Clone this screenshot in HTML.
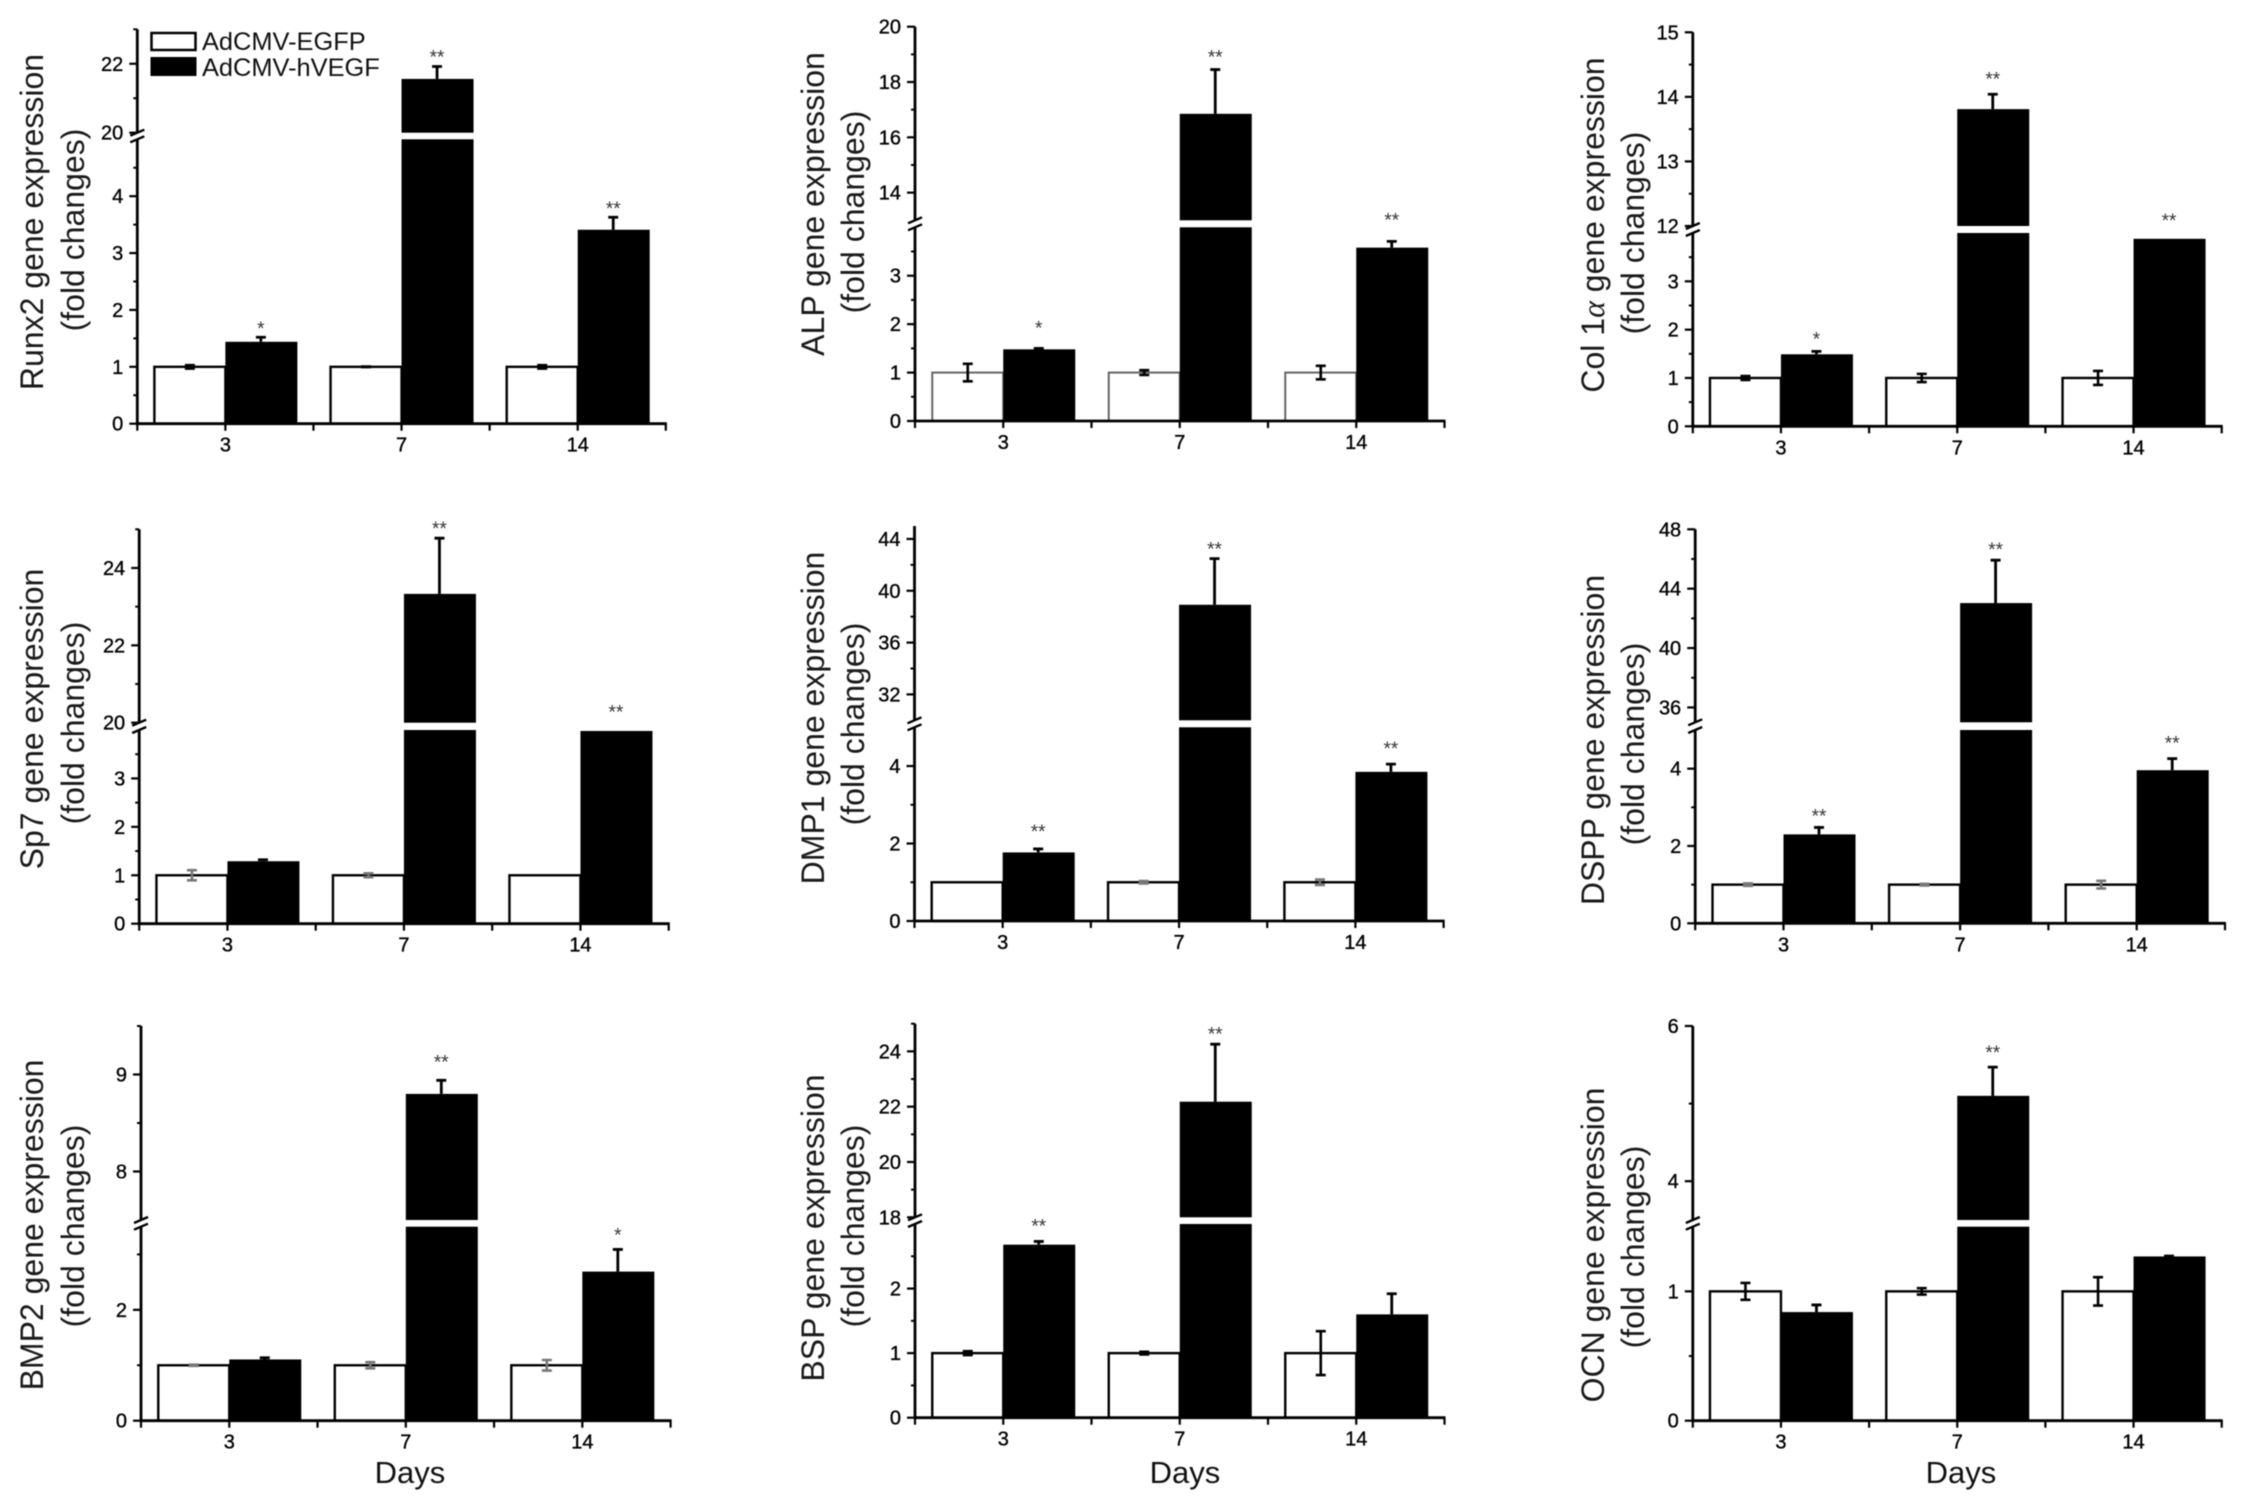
<!DOCTYPE html>
<html lang="en">
<head>
<meta charset="utf-8">
<title>Gene expression fold changes</title>
<style>
html,body{margin:0;padding:0;background:#fff;}
svg{display:block;filter:blur(0.5px);}
text{font-family:"Liberation Sans",sans-serif;fill:#000;}
.yt{font-size:32px;text-anchor:middle;fill:#1a1a1a;}
.days{font-size:31px;text-anchor:middle;fill:#111;}
.leg{font-size:25.4px;fill:#111;}
.tk{stroke:#000;stroke-width:0.35px;}
</style>
</head>
<body>
<svg id="fig" xmlns="http://www.w3.org/2000/svg" width="2241" height="1508" viewBox="0 0 2241 1508">
  <rect x="0" y="0" width="2241" height="1508" fill="#fff"/>

  <g id="runx2">
    <text class="yt" transform="translate(43 222) rotate(-90)">Runx2 gene expression</text>
    <text class="yt" transform="translate(84 230) rotate(-90)">(fold changes)</text>
  </g>
  <g id="alp">
    <text class="yt" transform="translate(824 204) rotate(-90)">ALP gene expression</text>
    <text class="yt" transform="translate(864 212) rotate(-90)">(fold changes)</text>
  </g>
  <g id="col1a">
    <text class="yt" transform="translate(1604 225) rotate(-90)">Col 1<tspan font-family="'Liberation Serif',serif" font-style="italic">α</tspan> gene expression</text>
    <text class="yt" transform="translate(1644 233) rotate(-90)">(fold changes)</text>
  </g>
  <g id="sp7">
    <text class="yt" transform="translate(43 719) rotate(-90)">Sp7 gene expression</text>
    <text class="yt" transform="translate(84 723) rotate(-90)">(fold changes)</text>
  </g>
  <g id="dmp1">
    <text class="yt" transform="translate(824 718) rotate(-90)">DMP1 gene expression</text>
    <text class="yt" transform="translate(864 724) rotate(-90)">(fold changes)</text>
  </g>
  <g id="dspp">
    <text class="yt" transform="translate(1604 740) rotate(-90)">DSPP gene expression</text>
    <text class="yt" transform="translate(1644 744) rotate(-90)">(fold changes)</text>
  </g>
  <g id="bmp2">
    <text class="yt" transform="translate(43 1225) rotate(-90)">BMP2 gene expression</text>
    <text class="yt" transform="translate(84 1226) rotate(-90)">(fold changes)</text>
    <text class="days" x="410" y="1483">Days</text>
  </g>
  <g id="bsp">
    <text class="yt" transform="translate(824 1228) rotate(-90)">BSP gene expression</text>
    <text class="yt" transform="translate(864 1226) rotate(-90)">(fold changes)</text>
    <text class="days" x="1185" y="1483">Days</text>
  </g>
  <g id="ocn">
    <text class="yt" transform="translate(1604 1245) rotate(-90)">OCN gene expression</text>
    <text class="yt" transform="translate(1644 1247) rotate(-90)">(fold changes)</text>
    <text class="days" x="1961" y="1483">Days</text>
  </g>

  <g>
    <g>
      <rect x="151.5" y="33" width="44" height="17" fill="#fff" stroke="#000" stroke-width="2.5"/>
      <text class="leg" x="202" y="50">AdCMV-EGFP</text>
    </g>
    <g>
      <rect x="150.5" y="57" width="46" height="19" fill="#000"/>
      <text class="leg" x="202" y="76">AdCMV-hVEGF</text>
    </g>
  </g>
</svg>

<script>
// ---- shared category labels ----
const days = ['3', '7', '14'];

// ---- Runx2 ----
const runx2Egfp = [1, 1, 1];
const runx2EgfpErr = [0.03, 0.005, 0.03];
const runx2Vegf = [1.44, 21.56, 3.41];
const runx2VegfErr = [0.08, 0.36, 0.22];
const runx2Stars = ['*', '**', '**'];
const runx2LowerTicks = [0, 1, 2, 3, 4];
const runx2UpperTicks = [20, 22];
const runx2LowerDomain = [0, 5];
const runx2UpperDomain = [20, 23];

// ---- ALP ----
const alpEgfp = [1, 1, 1];
const alpEgfpErr = [0.18, 0.05, 0.14];
const alpVegf = [1.48, 16.85, 3.58];
const alpVegfErr = [0.02, 1.6, 0.13];
const alpStars = ['*', '**', '**'];
const alpLowerTicks = [0, 1, 2, 3];
const alpUpperTicks = [14, 16, 18, 20];
const alpLowerDomain = [0, 4];
const alpUpperDomain = [13, 20];

// ---- Col 1 alpha ----
const col1aEgfp = [1, 1, 1];
const col1aEgfpErr = [0.04, 0.085, 0.145];
const col1aVegf = [1.49, 13.81, 3.88];
const col1aVegfErr = [0.06, 0.23, 0];
const col1aStars = ['*', '**', '**'];
const col1aLowerTicks = [0, 1, 2, 3];
const col1aUpperTicks = [12, 13, 14, 15];
const col1aLowerDomain = [0, 4];
const col1aUpperDomain = [12, 15];

// ---- Sp7 ----
const sp7Egfp = [1, 1, 1];
const sp7EgfpErr = [0.105, 0.04, 0];
const sp7Vegf = [1.29, 23.33, 3.98];
const sp7VegfErr = [0.03, 1.44, 0];
const sp7Stars = ['', '**', '**'];
const sp7LowerTicks = [0, 1, 2, 3];
const sp7UpperTicks = [20, 22, 24];
const sp7LowerDomain = [0, 4];
const sp7UpperDomain = [20, 25];

// ---- DMP1 ----
const dmp1Egfp = [1, 1, 1];
const dmp1EgfpErr = [0, 0.03, 0.07];
const dmp1Vegf = [1.77, 38.92, 3.85];
const dmp1VegfErr = [0.09, 3.56, 0.2];
const dmp1Stars = ['**', '**', '**'];
const dmp1LowerTicks = [0, 2, 4];
const dmp1UpperTicks = [32, 36, 40, 44];
const dmp1LowerDomain = [0, 5];
const dmp1UpperDomain = [30, 45];

// ---- DSPP ----
const dsppEgfp = [1, 1, 1];
const dsppEgfpErr = [0.03, 0.02, 0.1];
const dsppVegf = [2.3, 43.03, 3.96];
const dsppVegfErr = [0.18, 2.89, 0.3];
const dsppStars = ['**', '**', '**'];
const dsppLowerTicks = [0, 2, 4];
const dsppUpperTicks = [36, 40, 44, 48];
const dsppLowerDomain = [0, 5];
const dsppUpperDomain = [35, 48];

// ---- BMP2 ----
const bmp2Egfp = [1, 1, 1];
const bmp2EgfpErr = [0.01, 0.055, 0.095];
const bmp2Vegf = [1.105, 8.8, 2.69];
const bmp2VegfErr = [0.03, 0.14, 0.4];
const bmp2Stars = ['', '**', '*'];
const bmp2LowerTicks = [0, 2];
const bmp2UpperTicks = [8, 9];
const bmp2LowerDomain = [0, 3.5];
const bmp2UpperDomain = [7.5, 9.5];

// ---- BSP ----
const bspEgfp = [1, 1, 1];
const bspEgfpErr = [0.03, 0.02, 0.34];
const bspVegf = [2.68, 22.18, 1.6];
const bspVegfErr = [0.05, 2.08, 0.32];
const bspStars = ['**', '**', ''];
const bspLowerTicks = [0, 1, 2];
const bspUpperTicks = [18, 20, 22, 24];
const bspLowerDomain = [0, 3];
const bspUpperDomain = [18, 25];

// ---- OCN ----
const ocnEgfp = [1, 1, 1];
const ocnEgfpErr = [0.065, 0.025, 0.11];
const ocnVegf = [0.84, 5.1, 1.27];
const ocnVegfErr = [0.055, 0.37, 0.003];
const ocnStars = ['', '**', ''];
const ocnLowerTicks = [0, 1];
const ocnUpperTicks = [4, 6];
const ocnLowerDomain = [0, 1.5];
const ocnUpperDomain = [3.5, 6];

// ---- drawing ----
const NS = 'http://www.w3.org/2000/svg';

function shape(parent, tag, attrs) {
  const el = document.createElementNS(NS, tag);
  for (const k in attrs) el.setAttribute(k, attrs[k]);
  parent.appendChild(el);
  return el;
}

function makeYScale(frame, lowerDomain, upperDomain) {
  return function (v) {
    if (v <= lowerDomain[1]) {
      return frame.base - (v - lowerDomain[0]) / (lowerDomain[1] - lowerDomain[0]) * (frame.base - frame.lowerTop);
    }
    const clamped = Math.max(v, upperDomain[0]);
    return frame.upperBottom - (clamped - upperDomain[0]) / (upperDomain[1] - upperDomain[0]) * (frame.upperBottom - frame.top);
  };
}

function drawPanel(key, frame, data) {
  const g = document.getElementById(key);
  const y = makeYScale(frame, data.lowerDomain, data.upperDomain);
  const band = (frame.x1 - frame.x0) / data.categories.length;
  const xCenter = function (i) { return frame.x0 + band * (i + 0.5); };
  const barW = 71;
  const inBreak = function (v) { return v > data.lowerDomain[1]; };

  data.categories.forEach(function (cat, i) {
    const cx = xCenter(i);

    const wb = shape(g, 'rect', {
      x: cx - barW, y: y(data.egfp[i]), width: barW, height: frame.base - y(data.egfp[i]),
      fill: '#fff', stroke: frame.whiteStroke, 'stroke-width': frame.whiteWidth
    });
    
    

    const ex = cx - barW / 2;
    const eTop = y(data.egfp[i] + data.egfpErr[i]);
    const eBot = y(data.egfp[i] - data.egfpErr[i]);
    if (data.egfpErr[i] > 0) {
      const ew = shape(g, 'path', {
        d: 'M' + (ex - 5) + ' ' + eTop + 'H' + (ex + 5) + 'M' + ex + ' ' + eTop + 'V' + eBot + 'M' + (ex - 5) + ' ' + eBot + 'H' + (ex + 5),
        fill: 'none', stroke: frame.errColor, 'stroke-width': 2.6
      });
      
      
    }

    const v = data.vegf[i];
    const barLeft = cx;
    const barWidth = barW + 1;
    if (inBreak(v)) {
      const low = shape(g, 'rect', {
        x: barLeft, y: frame.lowerTop, width: barWidth, height: frame.base - frame.lowerTop, fill: '#000'
      });
      
      
      const up = shape(g, 'rect', {
        x: barLeft, y: y(v), width: barWidth, height: frame.upperBottom - y(v), fill: '#000'
      });
      
      
    } else {
      const bar = shape(g, 'rect', {
        x: barLeft, y: y(v), width: barWidth, height: frame.base - y(v), fill: '#000'
      });
      
      
    }

    const bx = cx + barW / 2;
    const bTop = y(v + data.vegfErr[i]);
    if (data.vegfErr[i] > 0) {
      const eb = shape(g, 'path', {
        d: 'M' + (bx - 5) + ' ' + bTop + 'H' + (bx + 5) + 'M' + bx + ' ' + bTop + 'V' + y(v),
        fill: 'none', stroke: '#000', 'stroke-width': 2.8
      });
      
      
    }

    if (data.stars[i]) {
      const st = shape(g, 'text', {
        x: bx, y: bTop - frame.starGaps[i] + 9, 'text-anchor': 'middle', 'font-size': 19
      });
      st.style.fill = '#333';
      st.textContent = data.stars[i];
      
      
    }

    const xl = shape(g, 'text', {
      x: cx, y: frame.base + 28, 'text-anchor': 'middle', 'font-size': 20, class: 'tk'
    });
    xl.textContent = cat;
    
    
  });

  // x axis
  const xAxis = shape(g, 'line', {
    x1: frame.x0 - 1, x2: frame.x1 + 1, y1: frame.base, y2: frame.base, stroke: '#000', 'stroke-width': 2.8
  });
  
  
  for (let j = 0; j <= data.categories.length * 2; j++) {
    const tx = frame.x0 + band * j / 2;
    const t = shape(g, 'line', {
      x1: tx, x2: tx, y1: frame.base, y2: frame.base + 7, stroke: '#000', 'stroke-width': 2.2
    });
    
    
  }

  // y axis, lower and upper segments
  const yLow = shape(g, 'line', {
    x1: frame.x0, x2: frame.x0, y1: frame.base + 1, y2: frame.lowerTop, stroke: '#000', 'stroke-width': 2.8
  });
  
  
  const yUp = shape(g, 'line', {
    x1: frame.x0, x2: frame.x0, y1: frame.upperBottom, y2: frame.top, stroke: '#000', 'stroke-width': 2.8
  });
  
  

  [frame.lowerTop, frame.upperBottom].forEach(function (by) {
    const s = shape(g, 'line', {
      x1: frame.x0 - 7, y1: by + 3, x2: frame.x0 + 7, y2: by - 3, stroke: '#000', 'stroke-width': 2.4
    });
    
    
  });

  // major ticks and labels
  data.lowerTicks.concat(data.upperTicks).forEach(function (v) {
    const ty = y(v);
    const t = shape(g, 'line', {
      x1: frame.x0 - 8, x2: frame.x0, y1: ty, y2: ty, stroke: '#000', 'stroke-width': 2.2
    });
    
    
    const lbl = shape(g, 'text', {
      x: frame.x0 - 14, y: ty + 7, 'text-anchor': 'end', 'font-size': 20, class: 'tk'
    });
    lbl.textContent = String(v);
    
    
  });

  // minor ticks
  const minors = [];
  for (let v = data.lowerDomain[0] + frame.lowerMinor; v < data.lowerDomain[1] - 1e-6; v += frame.lowerMinor) {
    if (data.lowerTicks.indexOf(v) < 0) minors.push(v);
  }
  for (let v = Math.ceil(data.upperDomain[0] / frame.upperMinor - 1e-6) * frame.upperMinor; v <= data.upperDomain[1] + 1e-6; v += frame.upperMinor) {
    if (v > data.upperDomain[0] && data.upperTicks.indexOf(v) < 0) minors.push(v);
  }
  minors.forEach(function (v) {
    const m = shape(g, 'line', {
      x1: frame.x0 - 4, x2: frame.x0, y1: y(v), y2: y(v), stroke: '#000', 'stroke-width': 2
    });
    
    
  });
}

drawPanel('runx2',
  { x0: 137.3, x1: 665.8, base: 423.7, lowerTop: 139.3, upperBottom: 132.7, top: 29.3, lowerMinor: 0.5, upperMinor: 1, starGaps: [11, 12, 11], whiteStroke: '#000', whiteWidth: 2.4, errColor: '#000' },
  { categories: days, egfp: runx2Egfp, egfpErr: runx2EgfpErr, vegf: runx2Vegf, vegfErr: runx2VegfErr, stars: runx2Stars, lowerTicks: runx2LowerTicks, upperTicks: runx2UpperTicks, lowerDomain: runx2LowerDomain, upperDomain: runx2UpperDomain });

drawPanel('alp',
  { x0: 915, x1: 1444.5, base: 421, lowerTop: 227.3, upperBottom: 220.3, top: 26.7, lowerMinor: 0.5, upperMinor: 1, starGaps: [23, 15, 24], whiteStroke: '#666', whiteWidth: 2, errColor: '#000' },
  { categories: days, egfp: alpEgfp, egfpErr: alpEgfpErr, vegf: alpVegf, vegfErr: alpVegfErr, stars: alpStars, lowerTicks: alpLowerTicks, upperTicks: alpUpperTicks, lowerDomain: alpLowerDomain, upperDomain: alpUpperDomain });

drawPanel('col1a',
  { x0: 1692.8, x1: 2221.7, base: 426.3, lowerTop: 233, upperBottom: 226, top: 32.3, lowerMinor: 0.5, upperMinor: 0.5, starGaps: [14.7, 18, 21], whiteStroke: '#000', whiteWidth: 2.4, errColor: '#000' },
  { categories: days, egfp: col1aEgfp, egfpErr: col1aEgfpErr, vegf: col1aVegf, vegfErr: col1aVegfErr, stars: col1aStars, lowerTicks: col1aLowerTicks, upperTicks: col1aUpperTicks, lowerDomain: col1aLowerDomain, upperDomain: col1aUpperDomain });

drawPanel('sp7',
  { x0: 139.2, x1: 668.7, base: 923.7, lowerTop: 730, upperBottom: 722.7, top: 529.3, lowerMinor: 0.5, upperMinor: 1, starGaps: [12, 12, 21.7], whiteStroke: '#000', whiteWidth: 2.4, errColor: '#777' },
  { categories: days, egfp: sp7Egfp, egfpErr: sp7EgfpErr, vegf: sp7Vegf, vegfErr: sp7VegfErr, stars: sp7Stars, lowerTicks: sp7LowerTicks, upperTicks: sp7UpperTicks, lowerDomain: sp7LowerDomain, upperDomain: sp7UpperDomain });

drawPanel('dmp1',
  { x0: 914.5, x1: 1443.6, base: 921, lowerTop: 727.3, upperBottom: 720.3, top: 526, lowerMinor: 1, upperMinor: 2, starGaps: [20, 12, 18], whiteStroke: '#000', whiteWidth: 2.4, errColor: '#777' },
  { categories: days, egfp: dmp1Egfp, egfpErr: dmp1EgfpErr, vegf: dmp1Vegf, vegfErr: dmp1VegfErr, stars: dmp1Stars, lowerTicks: dmp1LowerTicks, upperTicks: dmp1UpperTicks, lowerDomain: dmp1LowerDomain, upperDomain: dmp1UpperDomain });

drawPanel('dspp',
  { x0: 1695.2, x1: 2225, base: 923.3, lowerTop: 730, upperBottom: 722.3, top: 529.3, lowerMinor: 1, upperMinor: 2, starGaps: [13.7, 13.3, 18], whiteStroke: '#000', whiteWidth: 2.4, errColor: '#777' },
  { categories: days, egfp: dsppEgfp, egfpErr: dsppEgfpErr, vegf: dsppVegf, vegfErr: dsppVegfErr, stars: dsppStars, lowerTicks: dsppLowerTicks, upperTicks: dsppUpperTicks, lowerDomain: dsppLowerDomain, upperDomain: dsppUpperDomain });

drawPanel('bmp2',
  { x0: 141, x1: 670.6, base: 1420.7, lowerTop: 1226.7, upperBottom: 1220, top: 1026, lowerMinor: 1, upperMinor: 0.5, starGaps: [12, 21, 17], whiteStroke: '#000', whiteWidth: 2.4, errColor: '#777' },
  { categories: days, egfp: bmp2Egfp, egfpErr: bmp2EgfpErr, vegf: bmp2Vegf, vegfErr: bmp2VegfErr, stars: bmp2Stars, lowerTicks: bmp2LowerTicks, upperTicks: bmp2UpperTicks, lowerDomain: bmp2LowerDomain, upperDomain: bmp2UpperDomain });

drawPanel('bsp',
  { x0: 915, x1: 1444.5, base: 1417.7, lowerTop: 1224, upperBottom: 1217.3, top: 1023.7, lowerMinor: 0.5, upperMinor: 1, starGaps: [17.7, 12.7, 12], whiteStroke: '#000', whiteWidth: 2.4, errColor: '#000' },
  { categories: days, egfp: bspEgfp, egfpErr: bspEgfpErr, vegf: bspVegf, vegfErr: bspVegfErr, stars: bspStars, lowerTicks: bspLowerTicks, upperTicks: bspUpperTicks, lowerDomain: bspLowerDomain, upperDomain: bspUpperDomain });

drawPanel('ocn',
  { x0: 1692.8, x1: 2221.7, base: 1420.7, lowerTop: 1226.7, upperBottom: 1220, top: 1026, lowerMinor: 0.5, upperMinor: 1, starGaps: [12, 17.3, 12], whiteStroke: '#000', whiteWidth: 2.4, errColor: '#000' },
  { categories: days, egfp: ocnEgfp, egfpErr: ocnEgfpErr, vegf: ocnVegf, vegfErr: ocnVegfErr, stars: ocnStars, lowerTicks: ocnLowerTicks, upperTicks: ocnUpperTicks, lowerDomain: ocnLowerDomain, upperDomain: ocnUpperDomain });
</script>
</body>
</html>
